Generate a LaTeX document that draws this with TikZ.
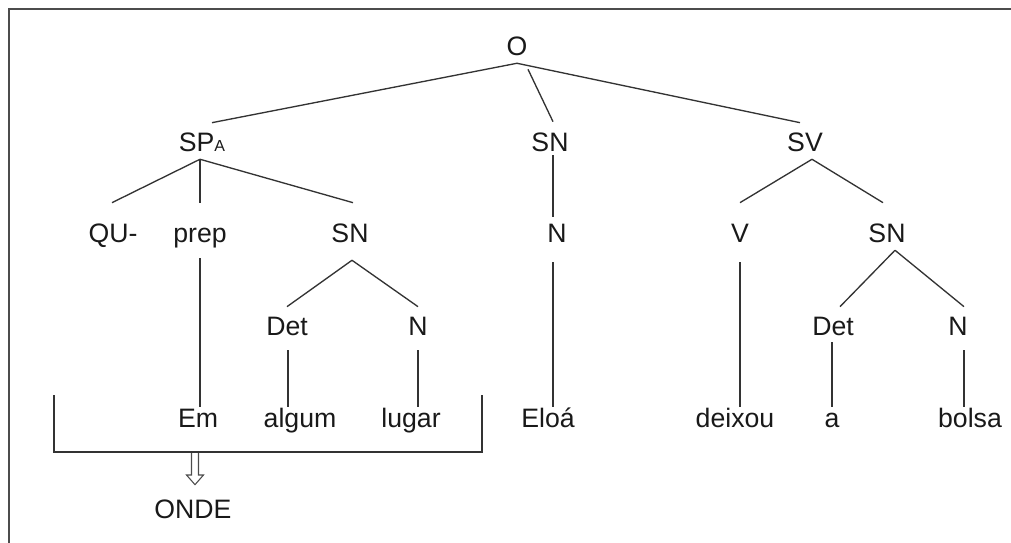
\documentclass[tikz,border=0pt]{standalone}
\usepackage{fontspec}
\setmainfont{Liberation Sans}
\usetikzlibrary{calc}
\begin{document}
\begin{tikzpicture}[x=0.75pt,y=-0.75pt,
  lbl/.style={inner sep=0pt, anchor=base, text height=14.3pt, text depth=0pt,
              font=\fontsize{20}{24}\selectfont, text=black!90},
  edge/.style={draw=black!80, line width=1pt},
  frame/.style={draw=black!70, line width=1.5pt},
  hollow/.style={draw=black!70, fill=white, line width=0.8pt, line join=miter}]
\useasboundingbox (0,0) rectangle (1011,543);

% outer frame (top and left edges)
\draw[frame] (8.5,543) -- (8.5,9.3) -- (1011,9.3);

% labels
\node[lbl] (o) at (517,55) {O};
\node[lbl] (spa) at (202,151) {SP{\fontsize{12}{14}\selectfont A}};
\node[lbl] (snm) at (550,151) {SN};
\node[lbl] (sv) at (805,151) {SV};
\node[lbl] (qu) at (113,242) {QU-};
\node[lbl] (prep) at (200,242) {prep};
\node[lbl] (snl) at (350,242) {SN};
\node[lbl] (nm) at (557,242) {N};
\node[lbl] (v) at (740,242) {V};
\node[lbl] (snr) at (887,242) {SN};
\node[lbl] (detl) at (287,335) {Det};
\node[lbl] (nl) at (418,335) {N};
\node[lbl] (detr) at (833,335) {Det};
\node[lbl] (nr) at (958,335) {N};
\node[lbl] (em) at (198,427) {Em};
\node[lbl] (algum) at (300,427) {algum};
\node[lbl] (lugar) at (411,427) {lugar};
\node[lbl] (eloa) at (548,427) {Eloá};
\node[lbl] (deixou) at (735,427) {deixou};
\node[lbl] (a) at (832,427) {a};
\node[lbl] (bolsa) at (970,427) {bolsa};
\node[lbl] (onde) at (193,518) {ONDE};

% branches from O
\draw[edge] ([shift={(0,8)}]o.south) -- ([shift={(10,-9)}]spa.north);
\draw[edge] ([shift={(11,14)}]o.south) -- ([shift={(3,-10)}]snm.north);
\draw[edge] ([shift={(0,8)}]o.south) -- ([shift={(-5,-9)}]sv.north);

% SP_A
\draw[edge] ([shift={(-2,8)}]spa.south) -- ([shift={(-1,-20)}]qu.north);
\draw[edge] ([shift={(-2,8)}]spa.south) -- ([shift={(0,-20)}]prep.north);
\draw[edge] ([shift={(-2,8)}]spa.south) -- ([shift={(3,-20)}]snl.north);

% middle SN
\draw[edge] ([shift={(3,4)}]snm.south) -- ([shift={(-4,-6)}]nm.north);

% SV
\draw[edge] ([shift={(7,8)}]sv.south) -- ([shift={(0,-20)}]v.north);
\draw[edge] ([shift={(7,8)}]sv.south) -- ([shift={(-4,-20)}]snr.north);

% lower SNs
\draw[edge] ([shift={(2,18)}]snl.south) -- ([shift={(0,-9)}]detl.north);
\draw[edge] ([shift={(2,18)}]snl.south) -- ([shift={(0,-9)}]nl.north);
\draw[edge] ([shift={(8,8)}]snr.south) -- ([shift={(7,-9)}]detr.north);
\draw[edge] ([shift={(8,8)}]snr.south) -- ([shift={(6,-9)}]nr.north);

% lexical items
\draw[edge] ([shift={(0,16)}]prep.south) -- ($(prep.south |- em.north)+(0,-1)$);
\draw[edge] ([shift={(-4,20)}]nm.south) -- ($(nm.south |- eloa.north)+(-4,-1)$);
\draw[edge] ([shift={(0,20)}]v.south) -- ($(v.south |- deixou.north)+(0,-1)$);
\draw[edge] ([shift={(1,15)}]detl.south) -- ($(detl.south |- algum.north)+(1,-1)$);
\draw[edge] ([shift={(0,15)}]nl.south) -- ($(nl.south |- lugar.north)+(0,-1)$);
\draw[edge] ([shift={(-1,7)}]detr.south) -- ($(detr.south |- a.north)+(-1,-1)$);
\draw[edge] ([shift={(6,15)}]nr.south) -- ($(nr.south |- bolsa.north)+(6,-1)$);

% bracket under the prepositional phrase
\coordinate (bl) at (54,395);
\coordinate (blb) at (54,452);
\coordinate (brb) at (482,452);
\coordinate (br) at (482,395);
\coordinate (brk) at (195,452);
\draw[edge] (bl) -- (blb) -- (brb) -- (br);

% hollow arrow down to ONDE
\draw[hollow] ($(brk)+(-3.5,1)$) -- ($(brk)+(-3.5,23)$) -- ($(brk)+(-8.5,23)$)
  -- ($(onde.north)+(2,-14)$) -- ($(brk)+(8.5,23)$) -- ($(brk)+(3.5,23)$)
  -- ($(brk)+(3.5,1)$);
\end{tikzpicture}
\end{document}
